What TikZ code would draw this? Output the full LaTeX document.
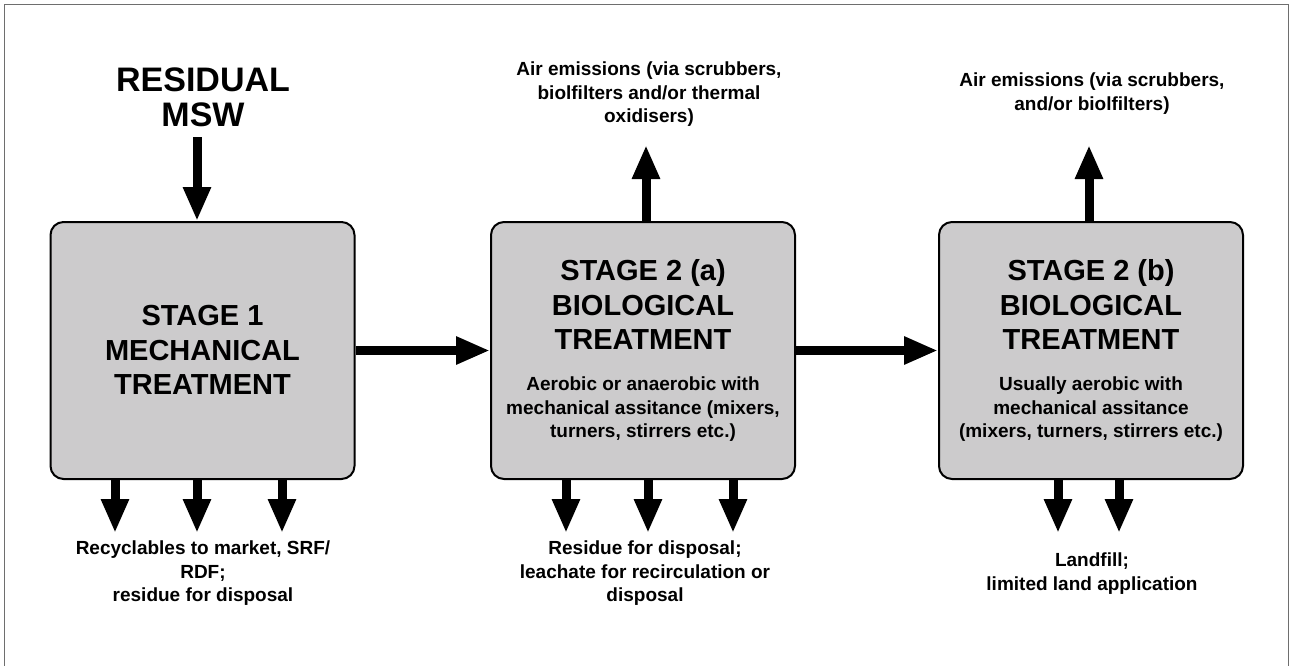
\documentclass[tikz,border=0pt]{standalone}
\usepackage{fontspec}
\setmainfont{Liberation Sans}
\usetikzlibrary{arrows.meta}
\definecolor{boxgray}{RGB}{204,203,204}
\definecolor{framegray}{RGB}{110,110,110}
\begin{document}
\begin{tikzpicture}[x=1pt,y=-1pt,
  stagebox/.style={draw=black, line width=2pt, fill=boxgray, rounded corners=13pt, minimum width=304pt, minimum height=257pt, inner sep=0pt},
  fatarrow/.style={line width=9pt, -{Triangle[length=34pt,width=26pt]}},
  bigtext/.style={font=\bfseries\fontsize{34}{35}\selectfont, align=center, inner sep=0pt},
  titletext/.style={font=\bfseries\fontsize{29}{34.5}\selectfont, align=center, inner sep=0pt},
  smalltext/.style={font=\bfseries\fontsize{19}{23.5}\selectfont, align=center, inner sep=0pt},
]
\useasboundingbox (0,0) rectangle (1290,665);
\draw[framegray, line width=1pt] (4.5,670) -- (4.5,4.5) -- (1288.5,4.5) -- (1288.5,670);

% boxes
\node[stagebox] (box1) at (202.5,350.5) {};
\node[stagebox] (box2) at (643,350.5) {};
\node[stagebox] (box3) at (1091,350.5) {};

% box texts
\node[titletext] (t1) at (202.5,350) {STAGE 1\\MECHANICAL\\TREATMENT};
\node[titletext] (t2) at (643,304.5) {STAGE 2 (a)\\BIOLOGICAL\\TREATMENT};
\node[smalltext] (d2) at (643,409.5) {Aerobic or anaerobic with\\mechanical assitance (mixers,\\turners, stirrers etc.)};
\node[titletext] (t3) at (1091,304.5) {STAGE 2 (b)\\BIOLOGICAL\\TREATMENT};
\node[smalltext] (d3) at (1091,409.5) {Usually aerobic with\\mechanical assitance\\(mixers, turners, stirrers etc.)};

% input
\node[bigtext] (msw) at (203,97.5) {RESIDUAL\\MSW};
\coordinate (mswout) at (197,137);
\draw[fatarrow] (mswout) -- (mswout |- box1.north);

% main flow
\draw[fatarrow] (box1.east) -- (box2.west);
\draw[fatarrow] (box2.east) -- (box3.west);

% air emissions
\node[smalltext] (air2) at (649,94.5) {Air emissions (via scrubbers,\\biolfilters and/or thermal\\oxidisers)};
\node[smalltext] (air3) at (1092,93.5) {Air emissions (via scrubbers,\\and/or biolfilters)};
\coordinate (up2) at (646,145);
\coordinate (up3) at (1089,145);
\draw[fatarrow] (up2 |- box2.north) -- (up2);
\draw[fatarrow] (up3 |- box3.north) -- (up3);

% outputs
\coordinate (o11) at (115,533);
\coordinate (o12) at (197,533);
\coordinate (o13) at (282,533);
\coordinate (o21) at (566,533);
\coordinate (o22) at (648,533);
\coordinate (o23) at (733,533);
\coordinate (o31) at (1058,533);
\coordinate (o32) at (1119,533);
\foreach \c/\b in {o11/box1,o12/box1,o13/box1,o21/box2,o22/box2,o23/box2,o31/box3,o32/box3}
  \draw[fatarrow] (\c |- \b.south) -- (\c);

\node[smalltext] (out1) at (203,573.5) {Recyclables to market, SRF/\\RDF;\\residue for disposal};
\node[smalltext] (out2) at (645,573.5) {Residue for disposal;\\leachate for recirculation or\\disposal};
\node[smalltext] (out3) at (1092,573.5) {Landfill;\\limited land application};
\end{tikzpicture}
\end{document}
